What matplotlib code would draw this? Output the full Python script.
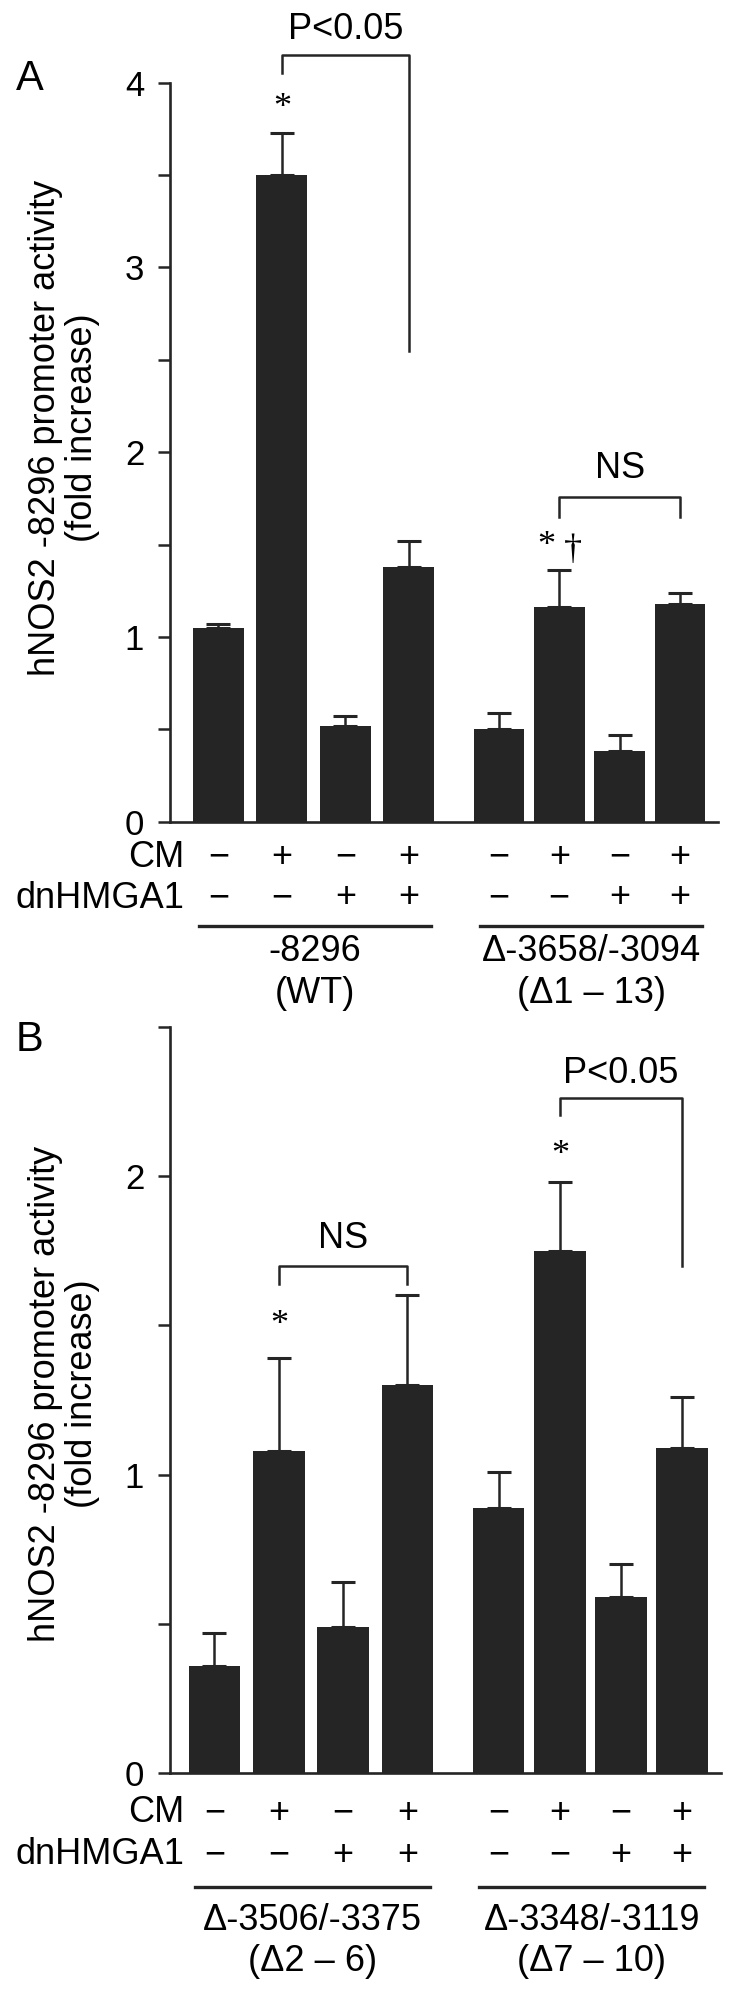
import matplotlib.pyplot as plt
import numpy as np

plt.rcParams['font.family'] = ['Liberation Sans', 'DejaVu Sans']

# treatment rows printed under the bars
cm_signs = ['−', '+', '−', '+', '−', '+', '−', '+']
dnhmga1_signs = ['−', '−', '+', '+', '−', '−', '+', '+']

# panel A: -8296 (WT) and delta 1-13 constructs
a_means = [1.05, 3.50, 0.52, 1.38, 0.50, 1.16, 0.38, 1.18]
a_errs = [0.02, 0.23, 0.05, 0.14, 0.09, 0.20, 0.09, 0.06]
a_groups = [['-8296', '(WT)'], ['Δ-3658/-3094', '(Δ1 – 13)']]
a_ymax = 4.0

# panel B: delta 2-6 and delta 7-10 constructs
b_means = [0.36, 1.08, 0.49, 1.30, 0.89, 1.75, 0.59, 1.09]
b_errs = [0.11, 0.31, 0.15, 0.30, 0.12, 0.23, 0.11, 0.17]
b_groups = [['Δ-3506/-3375', '(Δ2 – 6)'], ['Δ-3348/-3119', '(Δ7 – 10)']]
b_ymax = 2.5

# significance marks: (bar index, text, y, x shift)
a_marks = [(1, '*', 3.86, 0.0), (5, '*', 1.49, -0.2), (5, '†', 1.47, 0.22)]
b_marks = [(1, '*', 1.50, 0.0), (5, '*', 2.07, 0.0)]
# brackets: (left bar, right bar, left end, top, right end, label y, label)
a_brackets = [(1, 3, 4.05, 4.15, 2.55, 4.29, 'P<0.05'),
              (5, 7, 1.65, 1.757, 1.65, 1.91, 'NS')]
b_brackets = [(1, 3, 1.64, 1.70, 1.64, 1.79, 'NS'),
              (5, 7, 2.205, 2.26, 1.70, 2.344, 'P<0.05')]

BAR_COLOR = '#252525'
W, H = 750, 1996
positions = np.r_[np.arange(4) * 1.0, 4.42 + np.arange(4) * 0.95]

fig = plt.figure(figsize=(W / 100, H / 100), dpi=100)


def add_axes(left, top, right, bottom):
    return fig.add_axes([left / W, 1 - bottom / H, (right - left) / W, (bottom - top) / H])


def draw_panel(ax, means, errs, groups, ymax, xlim, rows_px, marks, brackets, label_y):
    h_px = ax.get_position().height * H

    ax.bar(positions, means, width=0.8, color=BAR_COLOR, zorder=2)
    ax.errorbar(positions, means, yerr=[np.zeros(len(errs)), errs], fmt='none',
                ecolor=BAR_COLOR, elinewidth=1.8, capsize=8.5, capthick=2.2, zorder=1)

    ax.set_xlim(*xlim)
    ax.set_ylim(0, ymax)
    ax.set_yticks(np.arange(0, ymax + 0.01, 1.0))
    ax.set_yticks(np.arange(0, ymax + 0.01, 0.5), minor=True)
    ax.set_xticks([])
    ax.tick_params(axis='y', which='both', direction='out', length=8.6, width=1.8,
                   labelsize=25, pad=10, color=BAR_COLOR)
    for side in ['top', 'right']:
        ax.spines[side].set_visible(False)
    for side in ['left', 'bottom']:
        ax.spines[side].set_linewidth(1.9)
        ax.spines[side].set_color(BAR_COLOR)

    ax.set_ylabel('hNOS2 -8296 promoter activity\n(fold increase)', fontsize=26,
                  linespacing=1.05)
    ax.yaxis.set_label_coords(-0.128, label_y)

    # CM / dnHMGA1 rows
    tr = ax.get_xaxis_transform()
    cm_y, dn_y, line_y, lab1_y, lab2_y = [-p / h_px for p in rows_px]
    ax.text(0.027, cm_y, 'CM', transform=ax.transAxes, ha='right', va='center', fontsize=26)
    ax.text(0.027, dn_y, 'dnHMGA1', transform=ax.transAxes, ha='right', va='center', fontsize=26)
    for x, s1, s2 in zip(positions, cm_signs, dnhmga1_signs):
        ax.text(x, cm_y, s1, transform=tr, ha='center', va='center', fontsize=26)
        ax.text(x, dn_y, s2, transform=tr, ha='center', va='center', fontsize=26)

    # construct names under a line
    for g, (name, short) in enumerate(groups):
        x0, x1 = positions[g * 4] - 0.3, positions[g * 4 + 3] + 0.35
        ax.plot([x0, x1], [line_y, line_y], transform=tr, clip_on=False,
                color=BAR_COLOR, lw=2.4)
        xc = (x0 + x1) / 2
        ax.text(xc, lab1_y, name, transform=tr, ha='center', va='center', fontsize=26)
        ax.text(xc, lab2_y, short, transform=tr, ha='center', va='center', fontsize=26)

    for i, s, y, dx in marks:
        ax.text(positions[i] + dx, y, s, ha='center', va='center', fontsize=26,
                family='Liberation Serif', clip_on=False)

    for i, j, yl, yt, yr, ty, s in brackets:
        xl, xr = positions[i], positions[j]
        ax.plot([xl, xl, xr, xr], [yl, yt, yt, yr], color=BAR_COLOR, lw=1.8,
                clip_on=False)
        ax.text((xl + xr) / 2, ty, s, ha='center', va='center', fontsize=26,
                clip_on=False)


ax_a = add_axes(170, 82.7, 718.3, 821.7)
draw_panel(ax_a, a_means, a_errs, a_groups, a_ymax, (-0.761, 7.874),
           [35.6, 76.3, 104, 130, 171.6], a_marks, a_brackets, 0.533)

ax_b = add_axes(170, 1026.7, 720.5, 1773.3)
draw_panel(ax_b, b_means, b_errs, b_groups, b_ymax, (-0.692, 7.869),
           [39.7, 81.7, 114, 146.7, 188.4], b_marks, b_brackets, 0.508)

# panel letters
fig.text(29.7 / W, 1 - 79 / H, 'A', fontsize=30, ha='center', va='center')
fig.text(29.7 / W, 1 - 1040 / H, 'B', fontsize=30, ha='center', va='center')

fig.savefig('out.png', dpi=100)
